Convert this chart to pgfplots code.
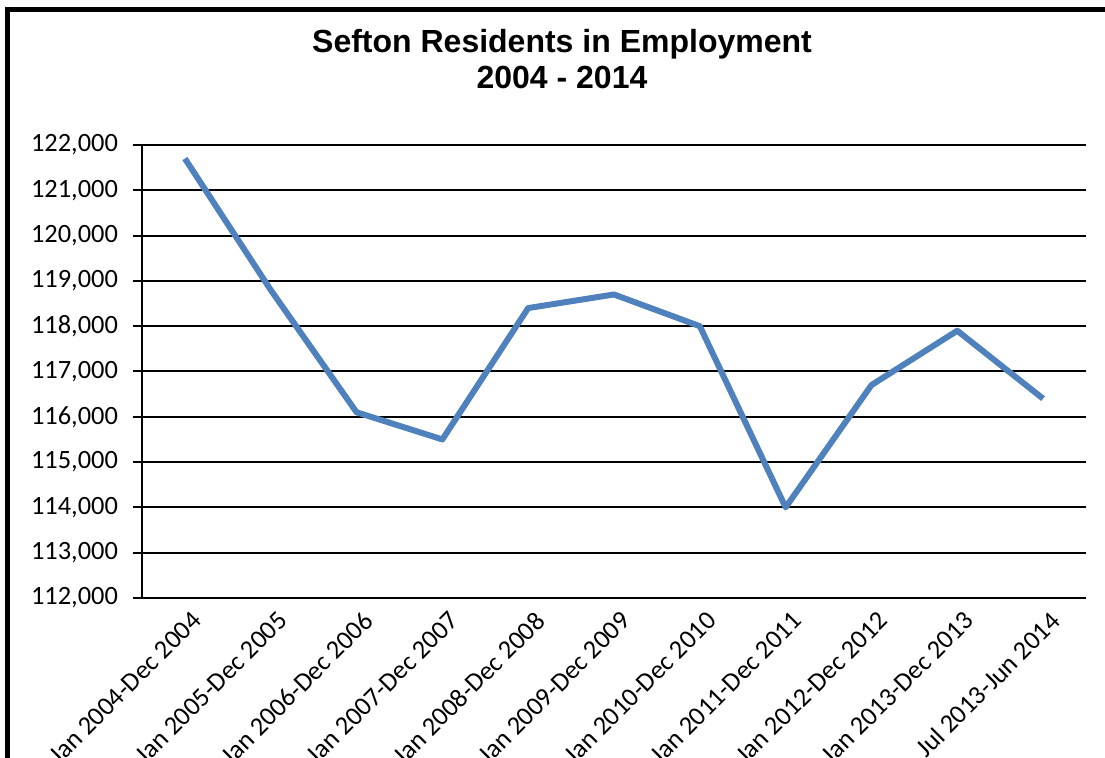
\documentclass[border=0pt]{standalone}
\usepackage{fontspec}
\setmainfont{Carlito}
\newfontfamily\arial{Liberation Sans}
\usepackage{pgfplots}
\pgfplotsset{compat=1.18}
\definecolor{exblue}{HTML}{4F81BD}
\begin{document}
\begin{tikzpicture}
\useasboundingbox (0,0) rectangle (552.5pt,379pt);
\draw[line width=2.8pt] (3.75pt,-5pt) -- (3.75pt,374.25pt) -- (560pt,374.25pt);
\node[anchor=base,font={\arial\bfseries\fontsize{16}{18}\selectfont}] at (281pt,352.5pt) {Sefton Residents in Employment};
\node[anchor=base,font={\arial\bfseries\fontsize{16}{18}\selectfont}] at (281pt,334.5pt) {2004 - 2014};
\begin{axis}[
  at={(71pt,80pt)}, anchor=south west,
  scale only axis, width=472pt, height=226.5pt,
  xmin=-0.5, xmax=10.5, ymin=112000, ymax=122000,
  axis x line=bottom, axis y line=left,
  axis line style={-, line width=1pt, black},
  scaled y ticks=false,
  ytick={112000,113000,...,122000},
  yticklabels={{112,000},{113,000},{114,000},{115,000},{116,000},{117,000},{118,000},{119,000},{120,000},{121,000},{122,000}},
  ymajorgrids, grid style={black, line width=1pt},
  xtick={0,...,10},
  xticklabels={Jan 2004-Dec 2004,Jan 2005-Dec 2005,Jan 2006-Dec 2006,Jan 2007-Dec 2007,Jan 2008-Dec 2008,Jan 2009-Dec 2009,Jan 2010-Dec 2010,Jan 2011-Dec 2011,Jan 2012-Dec 2012,Jan 2013-Dec 2013,Jul 2013-Jun 2014},
  minor xtick={-0.5,0.5,...,10.5},
  tick align=outside,
  major tick length=4.5pt, minor tick length=4.5pt,
  xtick style={draw=none},
  minor tick style={line width=1pt, black},
  ytick style={line width=1pt, black},
  x tick label style={rotate=45, anchor=north east, font=\fontsize{13.2}{15}\selectfont, inner sep=1pt, yshift=-2pt, xshift=2pt},
  y tick label style={font=\fontsize{13.2}{15}\selectfont, xshift=-4pt},
  clip=false,
]
\addplot[exblue, line width=3pt, line join=round] coordinates {
 (0,121700) (1,118800) (2,116100) (3,115500) (4,118400) (5,118700)
 (6,118000) (7,114000) (8,116700) (9,117900) (10,116400)
};
\end{axis}
\end{tikzpicture}
\end{document}
